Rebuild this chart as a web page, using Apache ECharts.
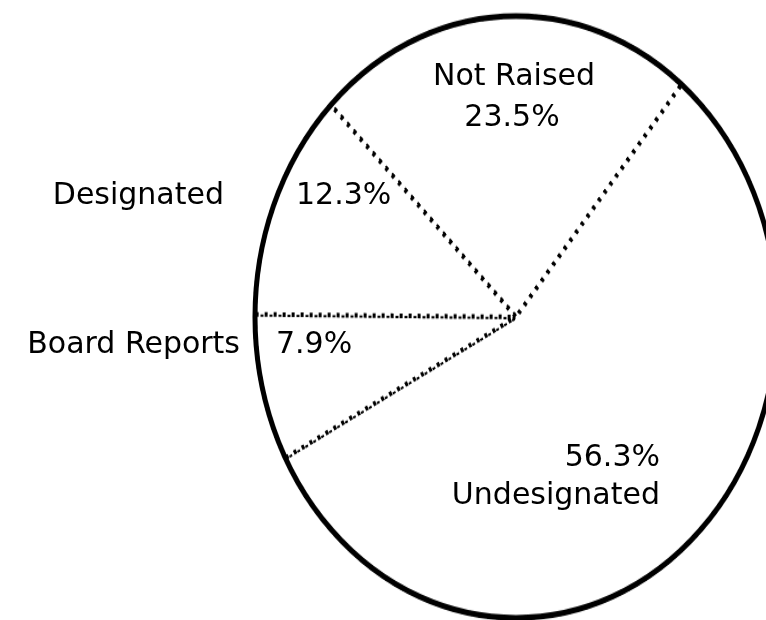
<!DOCTYPE html>
<html lang="en">
<head>
  <meta charset="UTF-8">
  <title>Pie</title>
  <style>
    body { margin: 0; overflow: hidden; background: #fff; }
    #wrap { position: relative; width: 766px; height: 620px; overflow: hidden; }
    #pie, #text { position: absolute; left: 0; top: 0; width: 766px; height: 620px; }
    /* the scanned circle is taller than wide */
    #pie { transform: scaleY(1.153); transform-origin: 0 317px; }
  </style>
</head>
<body>
  <div id="wrap">
    <div id="pie"></div>
    <div id="text"></div>
  </div>
  <script src="https://cdn.jsdelivr.net/npm/echarts@6/dist/echarts.min.js"></script>
  <script>
  // clockwise from the upper left edge
  var names = ['Not Raised', 'Undesignated', 'Board Reports', 'Designated']
  var shares = [23.5, 56.3, 7.9, 12.3]

  var total = shares.reduce(function (a, b) { return a + b }, 0)
  var pct = function (i) { return shares[i].toFixed(1) + '%' }

  var pieChart = echarts.init(document.getElementById('pie'))
  pieChart.setOption({
    animation: false,
    series: [{
      type: 'pie',
      center: [516, 317],
      radius: [0, 261],
      startAngle: 135.2,
      clockwise: true,
      silent: true,
      label: { show: false },
      labelLine: { show: false },
      itemStyle: { color: '#fff', borderColor: '#000', borderWidth: 4, borderType: [3, 6] },
      data: names.map(function (n, i) { return { name: n, value: shares[i] } })
    }, {
      // solid rim
      type: 'pie',
      center: [516, 317],
      radius: [0, 261],
      silent: true,
      z: 3,
      label: { show: false },
      labelLine: { show: false },
      itemStyle: { color: 'transparent', borderColor: '#000', borderWidth: 5 },
      data: [{ name: '', value: total }]
    }]
  })

  var font = { fontFamily: 'DejaVu Sans', fontSize: 30, fill: '#000', verticalAlign: 'middle' }
  function txt(s, x, y, align) {
    return { type: 'text', x: x, y: y, style: Object.assign({ text: s, align: align }, font) }
  }

  var textChart = echarts.init(document.getElementById('text'))
  textChart.setOption({
    animation: false,
    graphic: [
      txt(names[0], 514, 77, 'center'),
      txt(pct(0), 512, 118, 'center'),
      txt(names[3], 224, 196, 'right'),
      txt(pct(3), 296, 196, 'left'),
      txt(names[2], 240, 345, 'right'),
      txt(pct(2), 276, 345, 'left'),
      txt(pct(1), 660, 458, 'right'),
      txt(names[1], 660, 496, 'right')
    ]
  })
  </script>
</body>
</html>
